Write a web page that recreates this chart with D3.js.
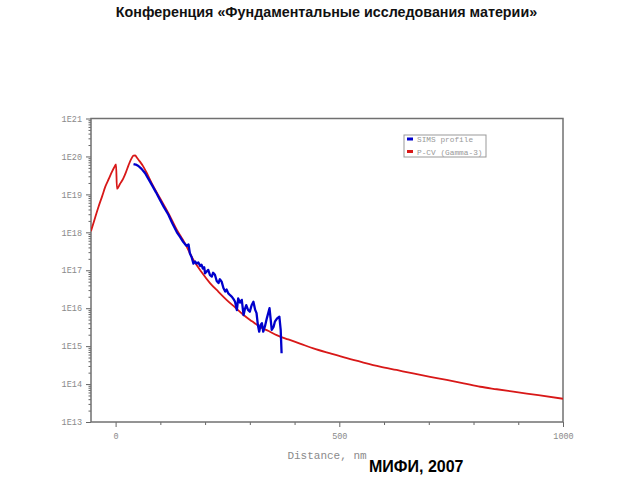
<!DOCTYPE html>
<html><head><meta charset="utf-8">
<script src="https://cdn.jsdelivr.net/npm/d3@7"></script>
<style>body{margin:0;background:#fff}svg{display:block}</style>
</head><body>
<svg id="c" width="640" height="480"></svg>
<script>
// Data
const redX = [-55,-46,-38,-30,-23,-15,-8,-3,1,3,10,17,23,29,35,40,44,47,54,62,71,81,99,118,137,155,174,192,211,230,248,267,286,305,323,342,360,386,412,442,480,517,554,591,628,665,703,740,778,815,852,889,945,1000];
const redY = [1.07e18,2.4e18,4.8e18,9.0e18,1.6e19,2.6e19,4.0e19,5.2e19,6.2e19,1.4e19,1.9e19,2.6e19,3.8e19,5.9e19,8.6e19,1.05e20,1.06e20,9.5e19,7.4e19,5.4e19,3.4e19,1.95e19,8.0e18,3.2e18,1.15e18,5.1e17,1.86e17,9.0e16,4.6e16,2.7e16,1.66e16,1.05e16,6.6e15,4.5e15,3.2e15,2.5e15,1.95e15,1.5e15,1.17e15,8.7e14,6.4e14,4.8e14,3.7e14,2.9e14,2.35e14,1.9e14,1.55e14,1.29e14,1.05e14,8.5e13,7.3e13,6.3e13,5.1e13,4.1e13];
const blueX = [40,45,51,58,66,73,81,90,99,108,118,127,137,144,151,155,159,163,166,170,174,178,181,185,189,192,195,198,200,204,207,211,215,218,222,226,230,233,237,241,245,248,252,256,260,264,267,271,274,278,282,286,289,292,296,300,304,308,312,315,318,321,324,327,330,334,338,344,349,353,356,361,366,369,371];
const blueY = [6.3e19,6.1e19,5.6e19,4.7e19,3.6e19,2.6e19,1.78e19,1.15e19,7.2e18,4.6e18,2.9e18,1.7e18,1.0e18,7.6e17,5.6e17,4.9e17,4.4e17,4.8e17,2.8e17,2.2e17,1.5e17,1.7e17,1.5e17,1.6e17,1.3e17,1.4e17,1.1e17,1.2e17,8.3e16,9.4e16,1.02e17,7.4e16,6.8e16,8.6e16,7.6e16,5.2e16,4.6e16,5.8e16,5.0e16,3.4e16,2.75e16,3.1e16,2.45e16,2.2e16,2.0e16,1.7e16,1.48e16,8.9e15,1.82e16,1.4e16,1.66e16,6.6e15,9.5e15,1.2e16,9.0e15,8.1e15,1.2e16,1.48e16,9.0e15,7.4e15,3.6e15,2.4e15,3.6e15,4.0e15,2.4e15,3.4e15,5.4e15,1.0e16,2.7e15,3.2e15,4.4e15,5.4e15,6.0e15,2.7e15,6.5e14];
const yMajor = [1e13,1e14,1e15,1e16,1e17,1e18,1e19,1e20,1e21];
const xMajor = [0,500,1000];
const xMinor = [100,200,300,400,600,700,800,900];
const legendLabels = ["SIMS profile","P-CV (Gamma-3)"];
const title = "Конференция «Фундаментальные исследования материи»";
const footer = "МИФИ, 2007";
const xTitle = "Distance, nm";

const svg = d3.select("#c");
const L=91, R=563, T=118.5, B=422;
const x = d3.scaleLinear().domain([-55,1000]).range([L,R]);
const y = d3.scaleLog().domain([1e13,1e21]).range([B,T]);
const mono = "'Liberation Mono','DejaVu Sans Mono',monospace";
const gray = "#8a8a8a";

// minor y ticks
const yMinor = [];
for (let e=13;e<21;e++) for (let m=2;m<=9;m++) yMinor.push(m*Math.pow(10,e));

const gyMin = svg.append("g").attr("transform",`translate(${L},0)`)
  .call(d3.axisLeft(y).tickValues(yMinor).tickSize(2.5).tickFormat(""));
const gy = svg.append("g").attr("transform",`translate(${L},0)`)
  .call(d3.axisLeft(y).tickValues(yMajor).tickSize(5).tickPadding(4)
    .tickFormat(d=>"1E"+Math.round(Math.log10(d))));
const gxMin = svg.append("g").attr("transform",`translate(0,${B})`)
  .call(d3.axisBottom(x).tickValues(xMinor).tickSize(3).tickFormat(""));
const gx = svg.append("g").attr("transform",`translate(0,${B})`)
  .call(d3.axisBottom(x).tickValues(xMajor).tickSize(5).tickPadding(6).tickFormat(d3.format("d")));
[gyMin,gy,gxMin,gx].forEach(g=>{
  g.select(".domain").remove();
  g.selectAll("line").attr("stroke","#666").attr("stroke-width",1);
  g.selectAll("text").attr("fill",gray).style("font-family",mono).style("font-size","8.5px");
});

// frame
svg.append("rect").attr("x",L).attr("y",T).attr("width",R-L).attr("height",B-T)
  .attr("fill","none").attr("stroke","#707070").attr("stroke-width",1.5);

// lines
svg.append("clipPath").attr("id","pc").append("rect")
  .attr("x",L).attr("y",T).attr("width",R-L).attr("height",B-T);
const line = d3.line().x(d=>x(d[0])).y(d=>y(d[1])).curve(d3.curveMonotoneX);
svg.append("path").datum(redX.map((v,i)=>[v,redY[i]])).attr("d",line)
  .attr("fill","none").attr("stroke","#d81818").attr("stroke-width",1.8).attr("clip-path","url(#pc)");
svg.append("path").datum(blueX.map((v,i)=>[v,blueY[i]])).attr("d",d3.line().x(d=>x(d[0])).y(d=>y(d[1])))
  .attr("fill","none").attr("stroke","#0000cc").attr("stroke-width",2.3).attr("stroke-linejoin","round").attr("clip-path","url(#pc)");

// legend
const lg = svg.append("g");
lg.append("rect").attr("x",404).attr("y",135).attr("width",82).attr("height",22)
  .attr("fill","#fff").attr("stroke","#999").attr("stroke-width",1);
const lcol = ["#0000cc","#d81818"];
legendLabels.forEach((t,i)=>{
  lg.append("rect").attr("x",407).attr("y",137.5+i*12.5).attr("width",6).attr("height",3).attr("fill",lcol[i]);
  lg.append("text").attr("x",417).attr("y",142+i*12.5).text(t)
    .attr("fill","#999").style("font-family",mono).style("font-size","7.8px");
});

// texts
svg.append("text").attr("x",327).attr("y",459).attr("text-anchor","middle").text(xTitle)
  .attr("fill",gray).style("font-family",mono).style("font-size","11px");
svg.append("text").attr("x",326.5).attr("y",17).attr("text-anchor","middle").text(title)
  .attr("fill","#111").style("font-family","'Liberation Sans',Arial,sans-serif").style("font-weight","bold").style("font-size","14.3px");
svg.append("text").attr("x",369).attr("y",472).text(footer)
  .attr("fill","#000").style("font-family","'Liberation Sans',Arial,sans-serif").style("font-weight","bold").style("font-size","16px");
</script>
</body></html>
